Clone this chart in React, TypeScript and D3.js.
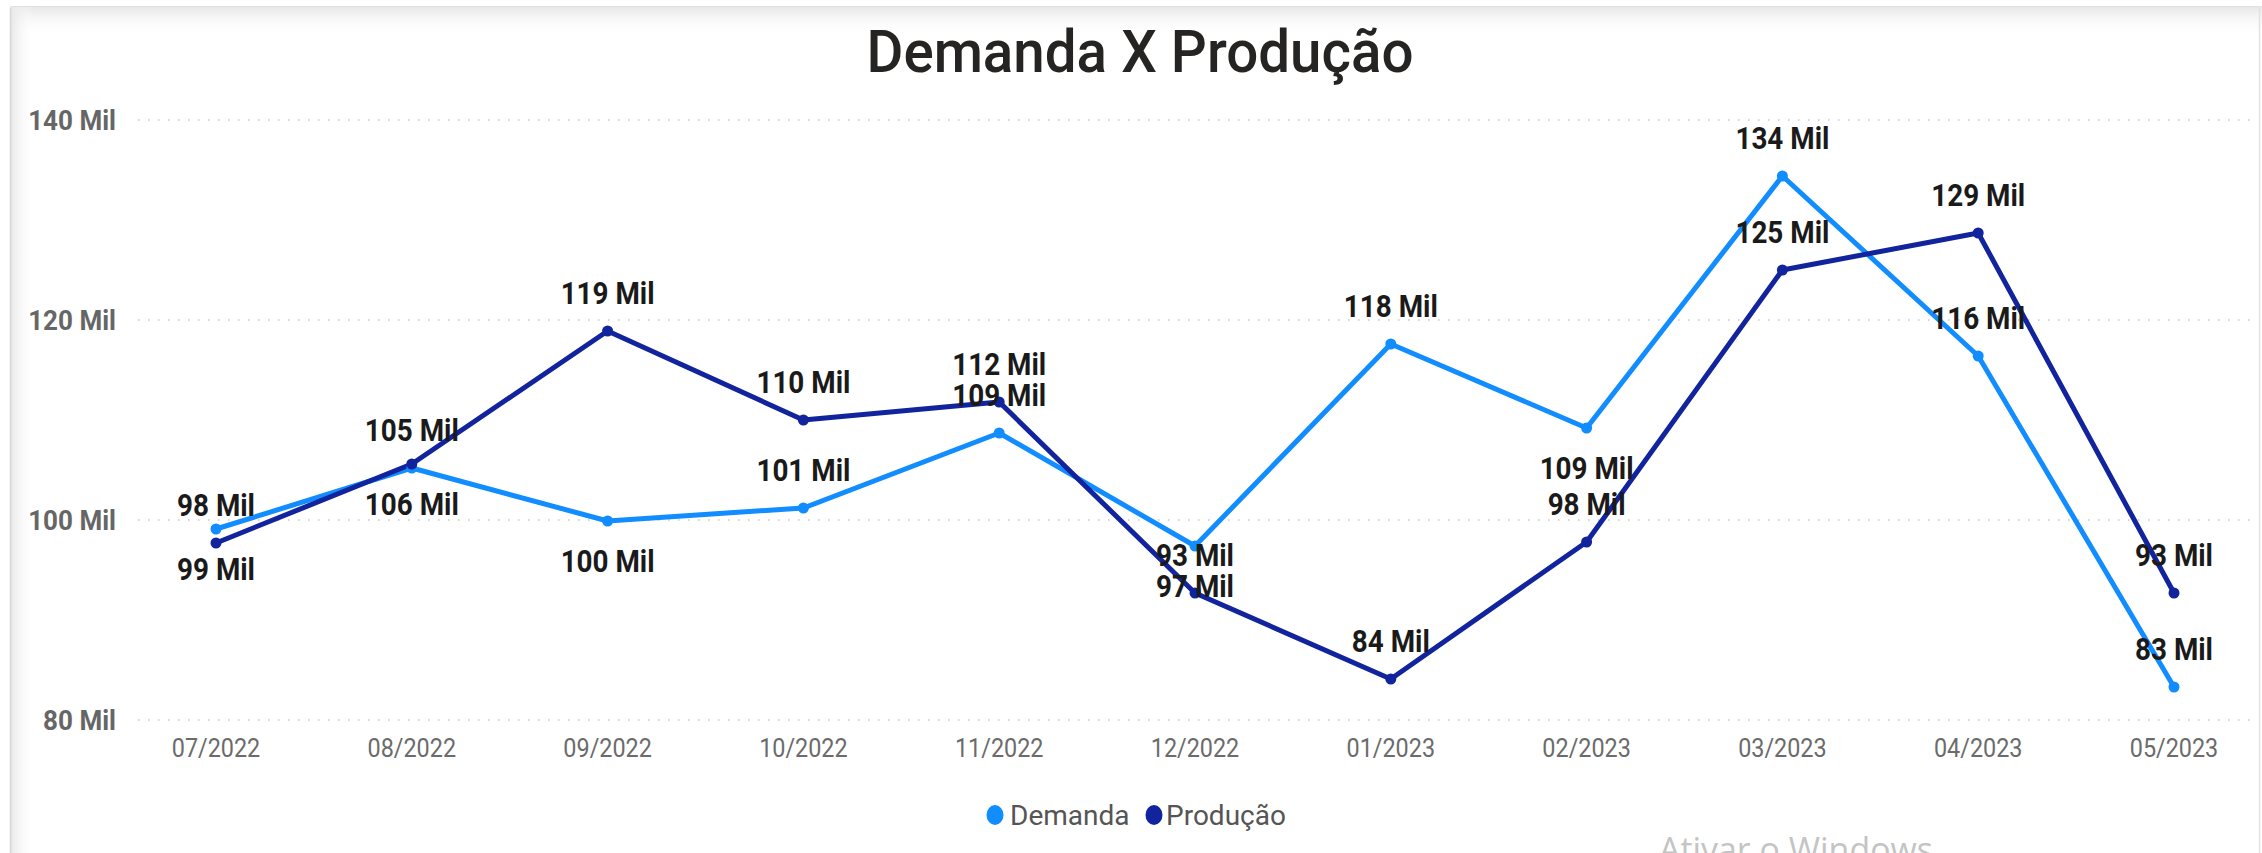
import React from "react";
import * as d3 from "d3";

const categories = ["07/2022", "08/2022", "09/2022", "10/2022", "11/2022", "12/2022", "01/2023", "02/2023", "03/2023", "04/2023", "05/2023"];
const demanda = [99.1, 105.2, 99.9, 101.2, 108.7, 97.4, 117.6, 109.2, 134.4, 116.4, 83.3];
const producao = [97.7, 105.6, 118.9, 110.0, 111.8, 92.7, 84.1, 97.8, 125.0, 128.7, 92.7];
const demandaLabelPos = ["below", "above", "below", "above", "above", "below", "above", "below", "above", "above", "above"];
const producaoLabelPos = ["above", "below", "above", "above", "above", "above", "above", "above", "above", "above", "above"];
const yTicks = [80, 100, 120, 140];
const seriesNames = ["Demanda", "Produção"];
const seriesColors = ["#118DFF", "#12239E"];

const W = 2262;
const H = 853;

function CText(props: any) {
  const { x, y, sx, children, ...rest } = props;
  return (
    <text transform={`translate(${x},${y}) scale(${sx},1)`} {...rest}>
      {children}
    </text>
  );
}

export default function App() {
  if (typeof document !== "undefined") {
    document.body.style.margin = "0";
  }
  const x = d3.scalePoint<string>().domain(categories).range([216, 2174]);
  const y = d3.scaleLinear().domain([80, 140]).range([720, 120]);
  const line = d3
    .line<number>()
    .x((_, i) => x(categories[i]) as number)
    .y((d) => y(d));

  const series = [
    { name: seriesNames[0], values: demanda, pos: demandaLabelPos, color: seriesColors[0] },
    { name: seriesNames[1], values: producao, pos: producaoLabelPos, color: seriesColors[1] },
  ];

  const labelFont = "Roboto, 'DejaVu Sans', sans-serif";

  return (
    <svg width={W} height={H} style={{ display: "block" }} fontFamily={labelFont}>
      <defs>
        <linearGradient id="topShadow" x1="0" y1="0" x2="0" y2="1">
          <stop offset="0" stopColor="#e6e6e6" />
          <stop offset="1" stopColor="#ffffff" stopOpacity="0" />
        </linearGradient>
        <linearGradient id="leftShadow" x1="0" y1="0" x2="1" y2="0">
          <stop offset="0" stopColor="#e6e6e6" />
          <stop offset="1" stopColor="#ffffff" stopOpacity="0" />
        </linearGradient>
      </defs>
      <rect x={0} y={0} width={W} height={H} fill="#ffffff" />
      <rect x={10} y={6} width={W - 10} height={30} fill="url(#topShadow)" />
      <rect x={10} y={6} width={24} height={H - 6} fill="url(#leftShadow)" />
      <line x1={10.5} y1={8} x2={10.5} y2={H} stroke="#d8d8d8" strokeWidth={1.5} />
      <line x1={12} y1={6.5} x2={W - 4} y2={6.5} stroke="#e0e0e0" strokeWidth={1} />
      <line x1={W - 2.5} y1={8} x2={W - 2.5} y2={H} stroke="#e2e2e2" strokeWidth={1.5} />

      {/* Title */}
      <text
        x={1140}
        y={72}
        textAnchor="middle"
        fontSize={60}
        fontWeight={500}
        fill="#252423"
        textLength={547}
        lengthAdjust="spacingAndGlyphs"
      >
        Demanda X Produção
      </text>

      {/* Grid + y axis */}
      {yTicks.map((t) => (
        <g key={t}>
          <line
            x1={138}
            x2={2252}
            y1={y(t)}
            y2={y(t)}
            stroke="#c8c8c8"
            strokeWidth={1.5}
            strokeDasharray="1.5,8.5"
          />
          <CText x={116} y={y(t) + 10} sx={0.93} textAnchor="end" fontSize={28} fontWeight={700} fill="#666666">
            {`${t} Mil`}
          </CText>
        </g>
      ))}

      {/* x axis labels */}
      {categories.map((c) => (
        <CText key={c} x={x(c)} y={757} sx={0.9} textAnchor="middle" fontSize={26} fill="#6b6b6b">
          {c}
        </CText>
      ))}

      {/* lines */}
      {series.map((s) => (
        <path key={s.name} d={line(s.values) || ""} fill="none" stroke={s.color} strokeWidth={5} strokeLinejoin="round" />
      ))}
      {series.map((s) => (
        <g key={s.name + "-pts"}>
          {s.values.map((v, i) => (
            <circle key={i} cx={x(categories[i])} cy={y(v)} r={5.5} fill={s.color} />
          ))}
        </g>
      ))}

      {/* data labels */}
      {series.map((s) => (
        <g key={s.name + "-lbl"}>
          {s.values.map((v, i) => {
            const cy = y(v) + (s.pos[i] === "above" ? -39 : 39);
            return (
              <CText
                key={i}
                x={x(categories[i])}
                y={cy + 11.5}
                sx={0.87}
                textAnchor="middle"
                fontSize={32}
                fontWeight={700}
                fill="#1a1a1a"
              >
                {`${Math.round(v)} Mil`}
              </CText>
            );
          })}
        </g>
      ))}

      {/* legend */}
      <g>
        <ellipse cx={995} cy={815} rx={8.5} ry={10} fill={seriesColors[0]} />
        <text x={1010} y={825} fontSize={28} fill="#555555">
          {seriesNames[0]}
        </text>
        <ellipse cx={1154} cy={815} rx={8.5} ry={10} fill={seriesColors[1]} />
        <text x={1166} y={825} fontSize={28} fill="#555555">
          {seriesNames[1]}
        </text>
      </g>

      {/* watermark */}
      <text x={1659} y={862} fontSize={34} fill="#c4c4c4" fontFamily="'Open Sans', sans-serif" textLength={274} lengthAdjust="spacingAndGlyphs">
        Ativar o Windows
      </text>
    </svg>
  );
}
